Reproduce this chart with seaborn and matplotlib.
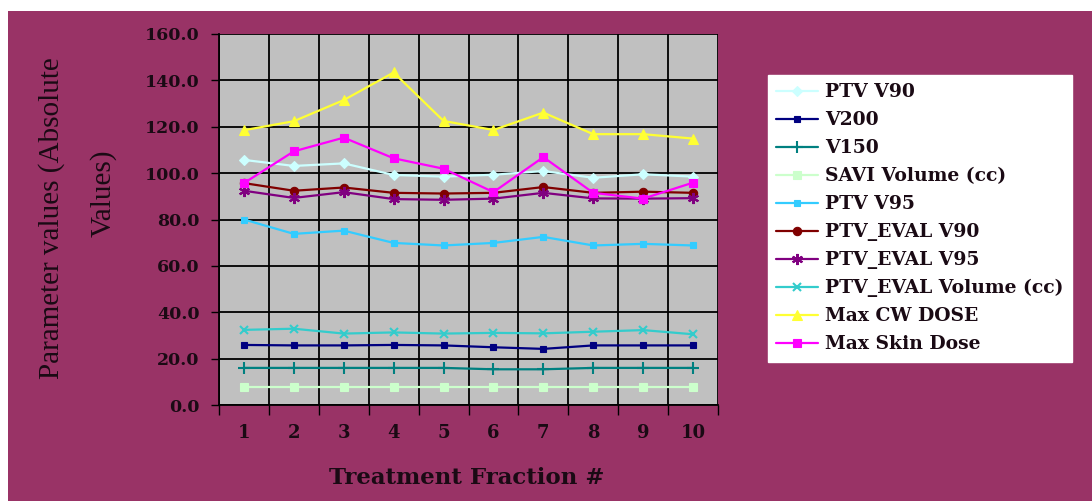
import pandas as pd
import matplotlib
matplotlib.use("Agg")
import matplotlib.pyplot as plt
from matplotlib.patches import Rectangle
from matplotlib.ticker import FixedLocator, FormatStrFormatter
import seaborn as sns

# values
fractions = [1, 2, 3, 4, 5, 6, 7, 8, 9, 10]
ptv_v90 = [105.7, 103.1, 104.2, 99.2, 98.5, 99.3, 100.9, 98.0, 99.5, 98.5]
v200 = [25.9, 25.7, 25.7, 25.9, 25.7, 24.9, 24.2, 25.7, 25.7, 25.7]
v150 = [16.0, 16.0, 16.0, 16.0, 16.0, 15.4, 15.4, 16.0, 16.0, 16.0]
savi_volume = [7.6, 7.6, 7.6, 7.6, 7.6, 7.6, 7.6, 7.6, 7.6, 7.6]
ptv_v95 = [80.0, 73.8, 75.2, 69.9, 68.8, 69.9, 72.5, 68.8, 69.5, 68.8]
ptv_eval_v90 = [95.7, 92.4, 93.8, 91.5, 91.2, 91.5, 94.0, 91.5, 92.0, 91.5]
ptv_eval_v95 = [92.4, 89.3, 91.8, 88.8, 88.5, 89.0, 91.5, 89.1, 89.0, 89.2]
ptv_eval_volume = [32.4, 32.9, 30.8, 31.3, 30.8, 31.1, 30.9, 31.6, 32.3, 30.5]
max_cw_dose = [118.5, 122.4, 131.5, 143.4, 122.5, 118.6, 126.1, 116.8, 116.8, 114.9]
max_skin_dose = [95.7, 109.4, 115.3, 106.4, 101.9, 91.8, 106.9, 91.5, 89.0, 95.9]

series_names = ["PTV V90", "V200", "V150", "SAVI Volume (cc)", "PTV V95",
                "PTV_EVAL V90", "PTV_EVAL V95", "PTV_EVAL Volume (cc)",
                "Max CW DOSE", "Max Skin Dose"]
series_values = [ptv_v90, v200, v150, savi_volume, ptv_v95,
                 ptv_eval_v90, ptv_eval_v95, ptv_eval_volume,
                 max_cw_dose, max_skin_dose]

# style per series: colour, marker, marker size
styles = {
    "PTV V90": ("#CCFFFF", "D", 5),
    "V200": ("#000080", "s", 4),
    "V150": ("#008080", "+", 8),
    "SAVI Volume (cc)": ("#CCFFCC", "s", 6),
    "PTV V95": ("#33CCFF", "s", 4),
    "PTV_EVAL V90": ("#800000", "o", 6),
    "PTV_EVAL V95": ("#800080", (6, 2, 0), 8),
    "PTV_EVAL Volume (cc)": ("#33CCCC", "x", 6),
    "Max CW DOSE": ("#FFFF33", "^", 7),
    "Max Skin Dose": ("#FF00FF", "s", 6),
}

rows = []
for name, vals in zip(series_names, series_values):
    for f, v in zip(fractions, vals):
        rows.append({"Fraction": f, "Value": v, "Series": name})
df = pd.DataFrame(rows)

sns.set_style("white")
plt.rcParams["font.family"] = ["DejaVu Serif"]

bg = "#993366"
txt = "#1a0a14"

fig = plt.figure(figsize=(10.92, 5.01), dpi=100)
fig.patch.set_facecolor("white")
fig.patches.append(Rectangle((8 / 1092, 0), 1, (501 - 11) / 501,
                             transform=fig.transFigure, facecolor=bg,
                             edgecolor="none", zorder=-10))

ax = fig.add_axes([219 / 1092, 1 - 405 / 501, (718 - 219) / 1092, (405 - 34) / 501])
ax.set_facecolor("#C0C0C0")

for name in series_names:
    color, marker, ms = styles[name]
    sub = df[df["Series"] == name]
    sns.lineplot(data=sub, x="Fraction", y="Value", ax=ax, color=color,
                 marker=marker, markersize=ms, markeredgecolor=color,
                 markeredgewidth=1.5 if marker in ("+", "x", (6, 2, 0)) else 0.8,
                 linewidth=1.6, label=name, zorder=3)

ax.set_xlim(0.5, 10.5)
ax.set_ylim(0, 160)
ax.yaxis.set_major_locator(FixedLocator([0, 20, 40, 60, 80, 100, 120, 140, 160]))
ax.yaxis.set_major_formatter(FormatStrFormatter("%.1f"))
ax.xaxis.set_major_locator(FixedLocator(fractions))
ax.xaxis.set_minor_locator(FixedLocator([f + 0.5 for f in [0] + fractions]))

ax.grid(True, which="major", axis="y", color="black", linewidth=1.3)
ax.grid(True, which="minor", axis="x", color="black", linewidth=1.3)
ax.set_axisbelow(True)

ax.tick_params(axis="x", which="major", length=0, pad=14, labelsize=13, labelcolor=txt)
ax.tick_params(axis="x", which="minor", length=7, width=1, color="black", direction="out", bottom=True)
ax.tick_params(axis="y", which="major", length=6, width=1, color="black", direction="out",
               left=True, pad=8, labelsize=12.5, labelcolor=txt)
for lab in ax.get_xticklabels() + ax.get_yticklabels():
    lab.set_fontweight("bold")

for side in ["top", "right"]:
    ax.spines[side].set_visible(False)
for side in ["left", "bottom"]:
    ax.spines[side].set_color("black")
    ax.spines[side].set_linewidth(1.3)

ax.set_xlabel("")
ax.set_ylabel("")

fig.text(467 / 1092, 1 - 478 / 501, "Treatment Fraction #", ha="center", va="center",
         fontsize=16.5, fontweight="bold", color=txt)
fig.text(52 / 1092, 1 - 218 / 501, "Parameter values (Absolute", ha="center", va="center",
         rotation=90, fontsize=21, color=txt, family=["Liberation Serif", "DejaVu Serif"])
fig.text(103 / 1092, 1 - 193 / 501, "Values)", ha="center", va="center",
         rotation=90, fontsize=21, color=txt, family=["Liberation Serif", "DejaVu Serif"])

leg = ax.legend(loc="upper left", bbox_to_anchor=(768 / 1092, 1 - 75 / 501),
                bbox_transform=fig.transFigure, frameon=True, fancybox=False,
                facecolor="white", edgecolor="white", framealpha=1,
                borderaxespad=0, borderpad=0.45, labelspacing=0.53,
                handlelength=2.2, handletextpad=0.4,
                prop={"family": "DejaVu Serif", "weight": "bold", "size": 13.5})
for t in leg.get_texts():
    t.set_color(txt)

fig.savefig("out.png", dpi=100, facecolor=fig.get_facecolor())
